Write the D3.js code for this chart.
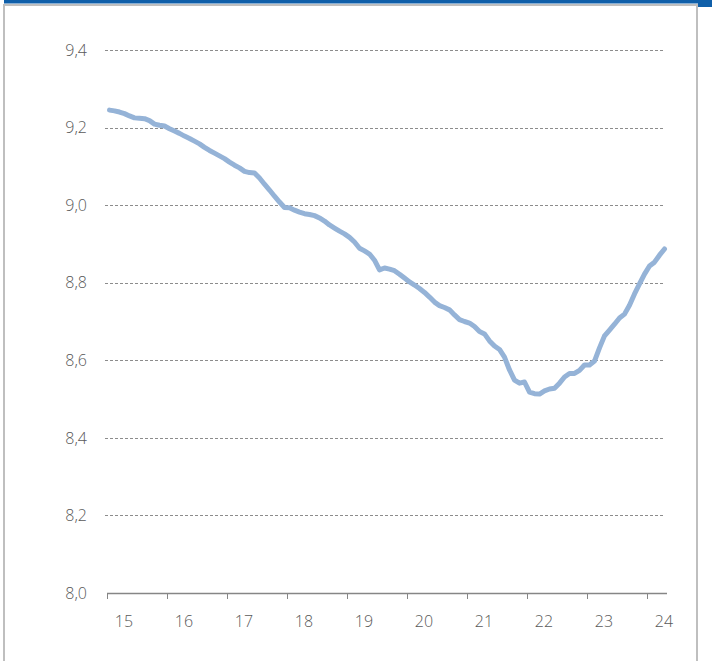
<!DOCTYPE html>
<html>
<head>
<meta charset="utf-8">
<script src="https://cdn.jsdelivr.net/npm/d3@7"></script>
<style>
  html, body { margin: 0; padding: 0; background: #ffffff; }
  svg { display: block; }
  text { font-family: "Open Sans", "Liberation Sans", sans-serif; }
</style>
</head>
<body>
<svg id="chart" width="712" height="661"></svg>
<script>
// Monthly values, Jan 2015 .. Apr 2024
const values = [
  9.245, 9.243, 9.240, 9.236, 9.230, 9.225, 9.224, 9.223, 9.218, 9.209, 9.206, 9.204,
  9.197, 9.191, 9.185, 9.178, 9.172, 9.165, 9.158, 9.149, 9.141, 9.134, 9.127, 9.120,
  9.111, 9.103, 9.096, 9.087, 9.084, 9.083, 9.070, 9.054, 9.039, 9.023, 9.008, 8.994,
  8.993, 8.987, 8.982, 8.978, 8.976, 8.973, 8.967, 8.959, 8.949, 8.941, 8.933, 8.926,
  8.917, 8.905, 8.889, 8.882, 8.874, 8.858, 8.833, 8.838, 8.835, 8.831, 8.822, 8.812,
  8.802, 8.794, 8.785, 8.775, 8.763, 8.750, 8.741, 8.736, 8.730, 8.717, 8.705, 8.700,
  8.696, 8.687, 8.674, 8.668, 8.650, 8.637, 8.628, 8.608, 8.575, 8.549, 8.541, 8.544,
  8.518, 8.514, 8.513, 8.521, 8.526, 8.528, 8.541, 8.557, 8.566, 8.566, 8.574, 8.588,
  8.588, 8.598, 8.632, 8.663, 8.678, 8.693, 8.709, 8.719, 8.742, 8.771, 8.797, 8.822,
  8.843, 8.853, 8.871, 8.887
];
const yearLabels = ["15", "16", "17", "18", "19", "20", "21", "22", "23", "24"];
const yTicks = [8.0, 8.2, 8.4, 8.6, 8.8, 9.0, 9.2, 9.4];

const svg = d3.select("#chart");

// frame
svg.append("rect").attr("x", 4).attr("y", 0).attr("width", 708).attr("height", 3.5).attr("fill", "#0f5fa9");
svg.append("rect").attr("x", 698).attr("y", 0).attr("width", 14).attr("height", 7).attr("fill", "#0f5fa9");
svg.append("rect").attr("x", 4).attr("y", 5).attr("width", 693).attr("height", 670)
  .attr("fill", "none").attr("stroke", "#bfbfbf").attr("stroke-width", 2);

const mLeft = 107, mRight = 667, mTop = 50, mBottom = 593;
const months = d3.range(values.length);
const x = d3.scaleBand().domain(months).range([mLeft, mRight]);
const y = d3.scaleLinear().domain([8.0, 9.4]).range([mBottom, mTop]);

// grid
svg.append("g").selectAll("line").data(yTicks.filter(d => d > 8.0)).join("line")
  .attr("x1", mLeft - 2).attr("x2", mRight - 2)
  .attr("y1", d => Math.round(y(d)) + 0.5).attr("y2", d => Math.round(y(d)) + 0.5)
  .attr("stroke", "#8c8c8c").attr("stroke-width", 1).attr("stroke-dasharray", "3,2");

// y labels
svg.append("g").selectAll("text").data(yTicks).join("text")
  .attr("x", 87).attr("y", d => y(d)).attr("dy", "0.36em")
  .attr("text-anchor", "end").attr("font-size", 16).attr("font-weight", 300).attr("fill", "#595959")
  .text(d => d3.format(".1f")(d).replace(".", ","));

// x axis
const tickMonths = months.filter(m => m % 12 === 0);
svg.append("line").attr("x1", mLeft).attr("x2", mRight)
  .attr("y1", mBottom + 0.5).attr("y2", mBottom + 0.5)
  .attr("stroke", "#868686").attr("stroke-width", 1.5);
svg.append("g").selectAll("line").data(tickMonths).join("line")
  .attr("x1", d => Math.round(x(d)) + 0.5).attr("x2", d => Math.round(x(d)) + 0.5)
  .attr("y1", mBottom).attr("y2", mBottom + 6)
  .attr("stroke", "#868686").attr("stroke-width", 1);
svg.append("g").selectAll("text").data(tickMonths).join("text")
  .attr("x", d => x(d) + 17).attr("y", 627)
  .attr("text-anchor", "middle").attr("font-size", 16).attr("font-weight", 300).attr("fill", "#595959")
  .text((d, i) => yearLabels[i]);

// line
const line = d3.line().x((d, i) => x(i) + x.bandwidth() / 2).y(d => y(d)).curve(d3.curveLinear);
svg.append("path").datum(values).attr("d", line)
  .attr("fill", "none").attr("stroke", "#95b3d7").attr("stroke-width", 5)
  .attr("stroke-linejoin", "round").attr("stroke-linecap", "round");
</script>
</body>
</html>
